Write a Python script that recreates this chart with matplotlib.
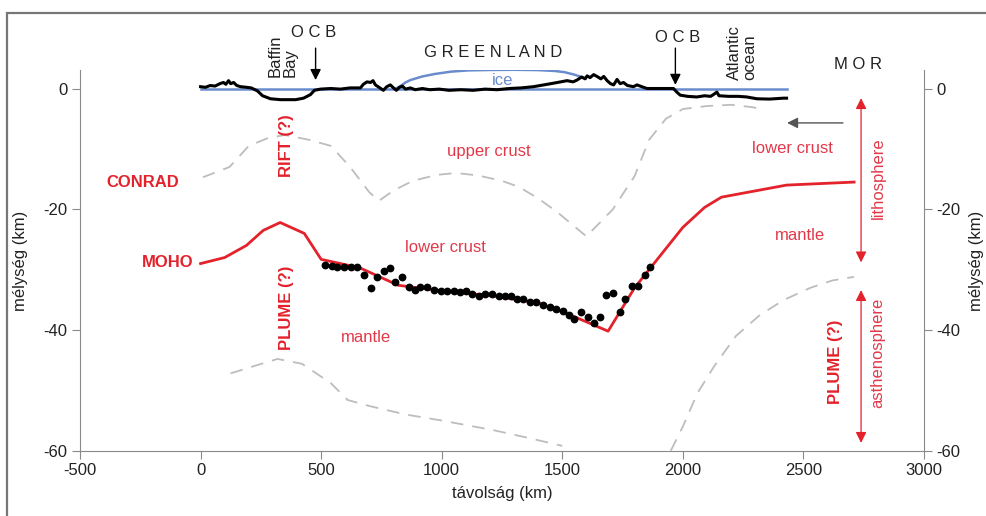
import matplotlib
matplotlib.use("Agg")
import matplotlib.pyplot as plt
from matplotlib.patches import Rectangle

plt.rcParams["font.family"] = ["Liberation Sans", "DejaVu Sans"]
plt.rcParams["font.size"] = 12
plt.rcParams["axes.unicode_minus"] = False

# topography (km, km)
topo_x = [0, 20, 40, 60, 80, 95, 105, 116, 125, 137, 150, 166, 190, 210, 236, 257, 290, 332, 394, 427,
          456, 472, 497, 540, 580, 620, 663, 675, 690, 705, 715, 725, 740, 758, 772, 787, 800, 812, 825,
          837, 850, 870, 890, 920, 950, 990, 1030, 1080, 1130, 1180, 1230, 1280, 1330, 1380, 1438, 1480,
          1520, 1545, 1561, 1580, 1595, 1603, 1615, 1630, 1644, 1660, 1672, 1686, 1700, 1713, 1727, 1740,
          1754, 1770, 1795, 1810, 1823, 1851, 1900, 1961, 1975, 1989, 2020, 2058, 2090, 2115, 2127, 2141,
          2150, 2190, 2230, 2265, 2307, 2360, 2417, 2430]
topo_z = [0.3, 0.2, 0.5, 0.4, 0.8, 1.0, 0.7, 1.3, 0.8, 1.0, 0.5, 0.3, 0.2, 0.1, -0.4, -1.2, -1.7, -1.85, -1.85, -1.6,
          -1.0, -0.3, -0.1, 0.0, -0.1, 0.1, 0.1, 0.7, 1.1, 1.0, 1.3, 0.6, 0.2, -0.3, 0.3, 0.6, 0.1, -0.3, 0.2,
          0.4, -0.1, 0.1, -0.2, 0.0, -0.2, -0.1, -0.3, -0.2, -0.3, -0.1, -0.2, 0.0, 0.1, 0.3, 0.7, 1.0,
          1.3, 1.1, 1.4, 1.9, 1.6, 2.1, 1.8, 2.3, 2.0, 1.6, 2.0, 1.3, 0.8, 0.6, 1.5, 0.8,
          1.0, 0.5, 0.3, 0.6, 0.4, 0.0, 0.0, 0.0, -0.6, -1.1, -1.3, -1.4, -1.2, -1.3, -1.0, -0.6,
          -1.2, -1.3, -1.3, -1.4, -1.7, -1.75, -1.6, -1.6]

sea_x = [0, 2430]
sea_z = [0, 0]

ice_x = [810, 829, 850, 870, 920, 970, 1040, 1110, 1200, 1300, 1400, 1470, 1510, 1550, 1580, 1595]
ice_z = [0.0, 0.4, 1.0, 1.4, 2.0, 2.4, 2.8, 3.0, 3.07, 3.1, 3.05, 2.9, 2.7, 2.3, 1.9, 1.7]

# Conrad discontinuity
conrad_x = [10, 120, 200, 280, 350, 450, 540, 620, 700, 740, 800, 880, 980, 1060, 1150, 1250, 1320, 1400,
            1480, 1600, 1710, 1800, 1860, 1930, 2000, 2100, 2200, 2290, 2340]
conrad_z = [-14.7, -13.0, -9.5, -8.2, -7.7, -8.5, -9.5, -13.0, -17.2, -18.6, -16.9, -15.3, -14.3, -14.0, -14.4,
            -15.3, -16.3, -18.2, -20.5, -24.5, -20.0, -14.5, -8.5, -5.0, -3.4, -2.9, -2.7, -3.1, -3.6]

# lithosphere-asthenosphere boundary
lab1_x = [124, 220, 319, 420, 540, 610, 700, 850, 1000, 1215, 1350, 1500]
lab1_z = [-47.2, -46.0, -44.8, -45.6, -48.8, -51.6, -52.6, -54.0, -55.0, -56.6, -57.8, -59.2]
lab2_x = [1950, 2000, 2060, 2130, 2220, 2320, 2420, 2530, 2620, 2710]
lab2_z = [-60.0, -56.0, -50.5, -46.0, -41.0, -37.5, -35.0, -33.0, -31.8, -31.2]

# Moho
moho_x = [0, 100, 190, 260, 330, 430, 500, 660, 820, 1000, 1200, 1400, 1550, 1690, 1800, 1870, 2000, 2090,
          2160, 2430, 2710]
moho_z = [-29.0, -28.0, -26.0, -23.5, -22.2, -24.0, -28.3, -29.7, -32.6, -33.5, -34.3, -35.5, -37.8, -40.2,
          -33.0, -29.5, -23.0, -19.7, -18.0, -16.0, -15.5]

# seismic Moho points
pts_x = [518, 546, 566, 594, 622, 649, 677, 705, 732, 760, 785, 808, 836, 863, 888, 912, 939, 967, 995,
         1022, 1050, 1075, 1101, 1126, 1153, 1181, 1209, 1236, 1264, 1288, 1312, 1337, 1365, 1392, 1420,
         1448, 1475, 1503, 1527, 1550, 1578, 1605, 1630, 1658, 1683, 1710, 1738, 1761, 1789, 1814, 1841, 1862]
pts_z = [-29.25, -29.4, -29.5, -29.6, -29.5, -29.5, -30.9, -33.1, -31.3, -30.2, -29.7, -32.0, -31.3, -32.9,
         -33.4, -32.9, -32.9, -33.4, -33.5, -33.5, -33.5, -33.7, -33.5, -34.1, -34.3, -34.1, -34.1, -34.3,
         -34.3, -34.4, -34.8, -34.8, -35.3, -35.4, -35.9, -36.2, -36.5, -36.9, -37.5, -38.2, -37.0, -37.8,
         -38.8, -37.8, -34.2, -33.8, -37.0, -34.9, -32.7, -32.7, -30.9, -29.5]

xticks = [-500, 0, 500, 1000, 1500, 2000, 2500, 3000]
yticks = [-60, -40, -20, 0]

red = "#e3222b"
red2 = "#e2394a"
gray = "#bdbdbd"
blue = "#6b8ccc"

fig = plt.figure(figsize=(9.86, 5.16), dpi=100)
ax = fig.add_axes([80 / 986, 1 - 450.7 / 516, 844 / 986, 380.3 / 516])
ax.set_xlim(-500, 3000)
ax.set_ylim(-60, 3)

ax.plot(conrad_x, conrad_z, color=gray, lw=1.3, dashes=(7, 5))
ax.plot(lab1_x, lab1_z, color=gray, lw=1.3, dashes=(7, 5))
ax.plot(lab2_x, lab2_z, color=gray, lw=1.3, dashes=(7, 5))
ax.plot(sea_x, sea_z, color=blue, lw=1.8)
ax.plot(ice_x, ice_z, color=blue, lw=1.8)
ax.plot(topo_x, topo_z, color="black", lw=2.2)
ax.plot(moho_x, moho_z, color=red, lw=2.0)
ax.plot(pts_x, pts_z, "o", color="black", ms=4.6, ls="none")

ax.spines["top"].set_visible(False)
for s in ["left", "right", "bottom"]:
    ax.spines[s].set_color("#8a8a8a")
ax.set_xticks(xticks)
ax.set_yticks(yticks)
ax.tick_params(direction="out", length=6, color="#8a8a8a", labelcolor="#222222", pad=3,
               right=True, labelright=True)
ax.set_xlabel("távolság (km)", color="#222222")
ax.xaxis.set_label_coords(0.5, -0.093)
ax.set_ylabel("mélység (km)", color="#222222")
ax.yaxis.set_label_coords(-0.062, 0.5)
ax.text(1.062, 0.5, "mélység (km)", transform=ax.transAxes, rotation=90,
        ha="center", va="center", color="#222222")

# top annotations
ax.text(468, 9.2, "O C B", ha="center", va="center", color="#222222")
ax.text(1977, 8.5, "O C B", ha="center", va="center", color="#222222")
ax.text(1214, 5.9, "G R E E N L A N D", ha="center", va="center", color="#222222")
ax.text(2727, 3.9, "M O R", ha="center", va="center", color="#222222")
ax.text(340, 1.9, "Baffin\nBay", rotation=90, ha="center", va="bottom", multialignment="left",
        color="#222222", linespacing=1.0)
ax.text(2246, 1.4, "Atlantic\nocean", rotation=90, ha="center", va="bottom", multialignment="left",
        color="#222222", linespacing=1.0)
ax.text(1252, 1.4, "ice", ha="center", va="center", color=blue)

arrow_k = dict(arrowstyle="-|>", color="black", lw=1.0, mutation_scale=16, shrinkA=0, shrinkB=0)
ax.annotate("", xy=(477, 1.4), xytext=(477, 6.7), arrowprops=arrow_k, annotation_clip=False)
ax.annotate("", xy=(1969, 0.6), xytext=(1969, 6.7), arrowprops=arrow_k, annotation_clip=False)
ax.annotate("", xy=(2432, -5.7), xytext=(2664, -5.7),
            arrowprops=dict(arrowstyle="-|>", color="#555555", lw=1.0, mutation_scale=16,
                            shrinkA=0, shrinkB=0))

# red labels
ax.text(-240, -15.5, "CONRAD", ha="center", va="center", color=red, fontweight="bold")
ax.text(-137, -28.9, "MOHO", ha="center", va="center", color=red, fontweight="bold")
ax.text(356, -9.5, "RIFT (?)", rotation=90, ha="center", va="center", color=red, fontweight="bold")
ax.text(356, -36.4, "PLUME (?)", rotation=90, ha="center", va="center", color=red, fontweight="bold")
ax.text(2632, -45.3, "PLUME (?)", rotation=90, ha="center", va="center", color=red, fontweight="bold")
ax.text(1194, -10.5, "upper crust", ha="center", va="center", color=red2)
ax.text(1015, -26.3, "lower crust", ha="center", va="center", color=red2)
ax.text(2453, -9.9, "lower crust", ha="center", va="center", color=red2)
ax.text(684, -41.2, "mantle", ha="center", va="center", color=red2)
ax.text(2486, -24.3, "mantle", ha="center", va="center", color=red2)
ax.text(2810, -14.9, "lithosphere", rotation=90, ha="center", va="center", color=red2)
ax.text(2810, -43.8, "asthenosphere", rotation=90, ha="center", va="center", color=red2)

arrow_r = dict(arrowstyle="<|-|>", color=red, lw=0.9, mutation_scale=16, shrinkA=0, shrinkB=0)
ax.annotate("", xy=(2739, -1.6), xytext=(2739, -28.8), arrowprops=arrow_r)
ax.annotate("", xy=(2739, -33.4), xytext=(2739, -58.7), arrowprops=arrow_r)

fig.patches.append(Rectangle((7 / 986, -0.1), 1.2, 1.1 - 13 / 516, transform=fig.transFigure,
                             fill=False, edgecolor="#777777", lw=1.6))

fig.savefig("out.png", dpi=100)
